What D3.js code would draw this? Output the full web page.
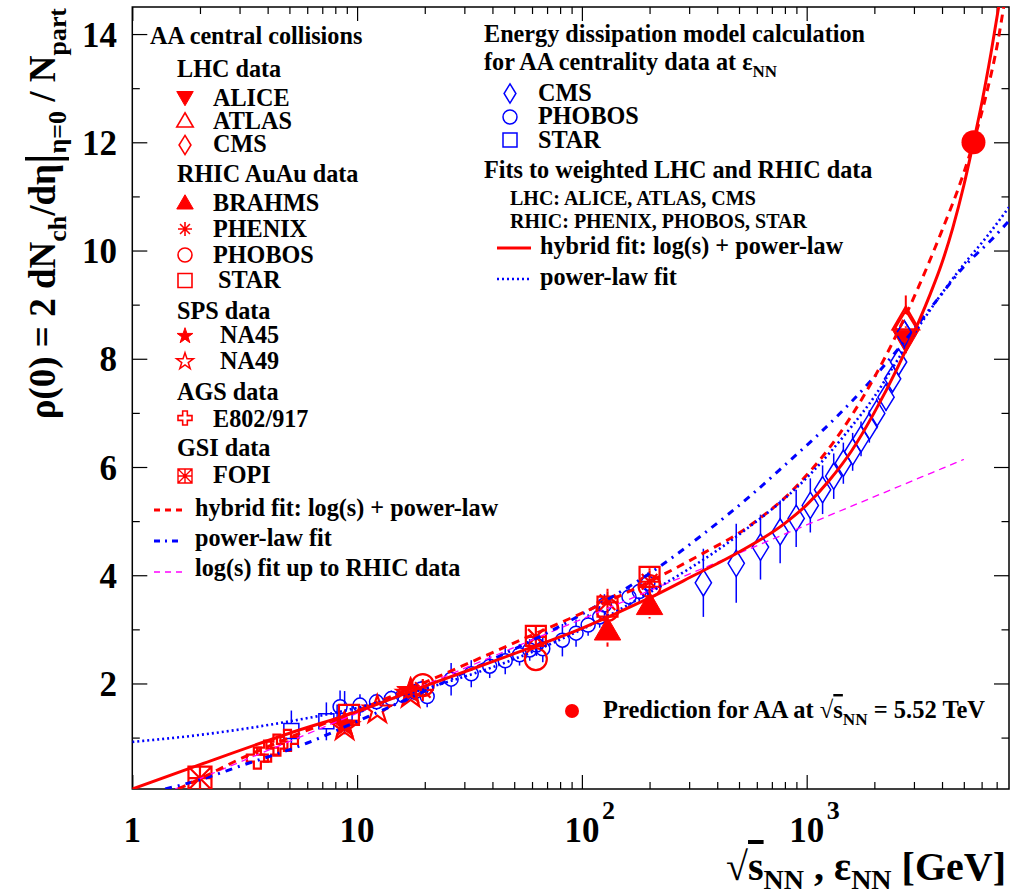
<!DOCTYPE html>
<html><head><meta charset="utf-8">
<script src="https://cdn.jsdelivr.net/npm/d3@7"></script>
<style>
body{margin:0;background:#fff}
svg{display:block}
text{font-family:"Liberation Serif","Times New Roman",serif;font-weight:bold;fill:#000}
</style>
</head><body>
<svg id="chart" width="1012" height="895"></svg>
<script>
// ---------- axis ticks ----------
const xMajorTicks = [1, 10, 100, 1000];
const xTickBase = ["1", "10", "10", "10"];
const xTickExp = ["", "", "2", "3"];
const yMajorTicks = [2, 4, 6, 8, 10, 12, 14];
const yMinorTicks = [1, 3, 5, 7, 9, 11, 13];

// ---------- measured central AA data: [sqrt(s_NN) GeV, rho(0), error] ----------
const aliceData  = [[2760, 8.35, 0.25]];
const atlasData  = [[2760, 8.72, 0.45]];
const cmsData    = [[2760, 8.58, 0.35]];
const brahmsData = [[130, 2.98, 0.3], [200, 3.45, 0.25]];
const phenixData = [[19.6, 1.88, 0.15], [62.4, 2.86, 0.2], [130, 3.5, 0.25], [200, 3.88, 0.25]];
const phobosData = [[19.6, 1.97, 0.15], [62.4, 2.45, 0.2], [130, 3.36, 0.2], [200, 3.8, 0.2]];
const starData   = [[9.2, 1.42, 0.1], [62.4, 2.88, 0.2], [130, 3.42, 0.2], [200, 3.97, 0.2]];
const na45Data   = [[8.8, 1.24, 0.1], [17.3, 1.86, 0.1]];
const na49Data   = [[8.8, 1.2, 0.1], [12.3, 1.51, 0.1], [17.3, 1.8, 0.1]];
const e802Data   = [[3.6, 0.62, 0], [4.0, 0.75, 0], [4.4, 0.86, 0], [4.9, 0.95, 0]];
const fopiData   = [[2.0, 0.25, 0]];

// ---------- energy dissipation model at eps_NN: [eps_NN GeV, rho(0), error] ----------
const cmsModel = [[347, 3.86, 0.63], [486, 4.22, 0.73], [623, 4.52, 0.6], [762, 4.8, 0.58],
  [898, 5.05, 0.53], [1038, 5.29, 0.5], [1177, 5.58, 0.45], [1319, 5.83, 0.42], [1456, 6.07, 0.38],
  [1601, 6.28, 0.35], [1745, 6.52, 0.32], [1900, 6.75, 0.3], [2049, 6.99, 0.28], [2254, 7.29, 0.25],
  [2411, 7.63, 0.22], [2564, 7.94, 0.2], [2718, 8.46, 0.2]];
const phobosModel = [[8.4, 1.57, 0.3], [10.3, 1.6, 0.2], [12.2, 1.66, 0.15], [14.2, 1.72, 0.15],
  [16.0, 1.78, 0.15], [18.0, 1.84, 0.15], [19.3, 1.9, 0.15], [20.5, 1.76, 0.2], [26.2, 2.08, 0.3],
  [32.2, 2.18, 0.25], [38.9, 2.32, 0.22], [45.6, 2.42, 0.25], [52.8, 2.53, 0.2], [58.6, 2.62, 0.2],
  [62.8, 2.71, 0.2], [67.0, 2.64, 0.25], [81.9, 2.8, 0.3], [94.2, 2.93, 0.25], [106.6, 3.08, 0.2],
  [120, 3.23, 0.2], [126, 3.45, 0.2], [162, 3.6, 0.2], [180, 3.7, 0.2], [196.6, 3.85, 0.2]];
const starModel = [[5.1, 1.12, 0.38], [7.3, 1.3, 0.35], [8.8, 1.46, 0.4]];

// ---------- prediction ----------
const prediction = [[5520, 12.0]];

// ---------- fit curves: [energy GeV, rho(0)] ----------
const hybridWeighted = [[1, 0.05], [2, 0.5], [5, 1.08], [10, 1.48], [20, 1.95], [50, 2.55], [100, 3.02],
  [200, 3.58], [316, 4.0], [500, 4.43], [794, 4.95], [1000, 5.3], [1259, 5.75], [1585, 6.3], [1995, 7.0],
  [2512, 7.8], [2754, 8.15], [3162, 8.7], [3548, 9.2], [3981, 9.75], [4467, 10.42], [5012, 11.22],
  [5520, 12.0], [6026, 12.75], [6607, 13.65], [7244, 14.65]];
const hybridCentral = [[1.6, 0.05], [2, 0.24], [3, 0.6], [5, 1.0], [10, 1.5], [20, 2.02], [50, 2.75],
  [100, 3.3], [220, 3.97], [344, 4.4], [500, 4.78], [631, 5.08], [794, 5.42], [1000, 5.85], [1259, 6.35],
  [1585, 6.95], [1995, 7.65], [2512, 8.45], [3162, 9.35], [3981, 10.35], [5012, 11.45], [5520, 12.0],
  [6310, 12.9], [7079, 13.85], [7586, 14.6]];
const powerCentral = [[1.4, 0.05], [2, 0.22], [3, 0.47], [6, 0.9], [10, 1.3], [30, 2.2], [100, 3.28],
  [220, 4.15], [344, 4.75], [574, 5.5], [807, 6.05], [1140, 6.62], [1601, 7.23], [2083, 7.75],
  [2755, 8.35], [3740, 9.05], [5000, 9.7], [6640, 10.2], [7943, 10.55]];
const powerWeighted = [[1, 0.92], [2, 1.05], [5, 1.3], [10, 1.55], [20, 1.9], [50, 2.45], [100, 3.0],
  [200, 3.68], [500, 4.75], [1000, 5.8], [1585, 6.75], [2000, 7.3], [2512, 7.95], [3162, 8.6],
  [3981, 9.2], [5012, 9.75], [6310, 10.25], [7943, 10.8]];
const logFitRHIC = [[1.55, 0.05], [10, 1.45], [100, 3.19], [1000, 4.93], [5000, 6.14]];

// ---------- layout ----------
const svg = d3.select("#chart");
const L = 132.3, R = 1009, T = 7, B = 789;
const x = d3.scaleLog().domain([1, Math.pow(10, 3.9)]).range([L, R]);
const y = d3.scaleLinear().domain([0.05, 14.5]).range([B, T]);
const RED = "#ff0000", BLUE = "#0000ff", MAG = "#ff00ff";

svg.append("defs").append("clipPath").attr("id", "plotClip")
  .append("rect").attr("x", L).attr("y", T).attr("width", R - L).attr("height", B - T);

// ---------- axes (ticks on all four sides) ----------
const xMinor = [];
for (let d = 1; d <= 1000; d *= 10) for (let k = 2; k <= 9; k++) if (k * d < x.domain()[1]) xMinor.push(k * d);
function axisTicks(gen, vals, len, tr) {
  const g = svg.append("g").attr("transform", tr)
    .call(gen.tickValues(vals).tickSize(len).tickFormat(""));
  g.select(".domain").remove();
  g.selectAll(".tick line").attr("stroke", "#000").attr("stroke-width", 1.2);
}
axisTicks(d3.axisBottom(x), xMajorTicks, -14, `translate(0,${B})`);
axisTicks(d3.axisBottom(x), xMinor, -7, `translate(0,${B})`);
axisTicks(d3.axisTop(x), xMajorTicks, -14, `translate(0,${T})`);
axisTicks(d3.axisTop(x), xMinor, -7, `translate(0,${T})`);
axisTicks(d3.axisLeft(y), yMajorTicks, -15, `translate(${L},0)`);
axisTicks(d3.axisLeft(y), yMinorTicks, -7.5, `translate(${L},0)`);
axisTicks(d3.axisRight(y), yMajorTicks, -15, `translate(${R},0)`);
axisTicks(d3.axisRight(y), yMinorTicks, -7.5, `translate(${R},0)`);
svg.append("rect").attr("x", L).attr("y", T).attr("width", R - L).attr("height", B - T)
  .attr("fill", "none").attr("stroke", "#000").attr("stroke-width", 1.5);

// tick labels
xMajorTicks.forEach((v, i) => {
  svg.append("text").attr("x", x(v)).attr("y", 842).attr("text-anchor", "middle")
    .attr("font-size", 35).text(xTickBase[i]);
  if (xTickExp[i]) svg.append("text").attr("x", x(v) + 20).attr("y", 819)
    .attr("font-size", 26).text(xTickExp[i]);
});
yMajorTicks.forEach(v => {
  svg.append("text").attr("x", 117).attr("y", y(v) + 12.5).attr("text-anchor", "end")
    .attr("font-size", 35).text(v);
});

// rich text helper: segments of [string, kind] where kind is "", "sub", "bar", "over"
function rich(parent, px, py, segs, fs, anchor, subDrop) {
  const t = parent.append("text").attr("x", px).attr("y", py).attr("font-size", fs)
    .attr("text-anchor", anchor || "start");
  let shift = 0;
  segs.forEach(([s, k]) => {
    const ts = t.append("tspan").text(s);
    let target = 0, size = fs;
    if (k === "sub") { target = (subDrop || 0.3) * fs; size = 0.7 * fs; }
    if (k === "bar") { target = 0.12 * fs; size = 1.3 * fs; }
    ts.attr("font-size", size).attr("dy", target - shift);
    if (k === "over") ts.style("text-decoration", "overline");
    shift = target;
  });
  return t;
}

// axis titles
rich(svg.append("g").attr("transform", "translate(55,8) rotate(-90)"), 0, 0,
  [["ρ(0) = 2 dN", ""], ["ch", "sub"], ["/dη", ""], ["|", "bar"], ["η=0", "sub"], [" / N", ""], ["part", "sub"]],
  37, "end");
rich(svg, 1006, 880,
  [["√", ""], ["s", "over"], ["NN", "sub"], [" , ε", ""], ["NN", "sub"], ["  [GeV]", ""]], 40, "end", 0.22);

// ---------- marker shapes ----------
const shape = {
  triUp: s => `M0,${-s * 0.55}L${s * 0.55},${s * 0.4}L${-s * 0.55},${s * 0.4}Z`,
  triDown: s => `M0,${s * 0.55}L${s * 0.55},${-s * 0.4}L${-s * 0.55},${-s * 0.4}Z`,
  diamond: s => `M0,${-s * 0.6}L${s * 0.37},0L0,${s * 0.6}L${-s * 0.37},0Z`,
  square: s => { const h = s / 2; return `M${-h},${-h}H${h}V${h}H${-h}Z`; },
  circle: s => { const r = s / 2; return `M${r},0A${r},${r} 0 1,1 ${-r},0A${r},${r} 0 1,1 ${r},0Z`; },
  star: s => { const p = []; for (let i = 0; i < 10; i++) { const r = i % 2 ? s * 0.2 : s * 0.52; const a = -Math.PI / 2 + i * Math.PI / 5; p.push([r * Math.cos(a), r * Math.sin(a)]); } return "M" + p.join("L") + "Z"; },
  cross: s => { const a = s / 2, b = s / 6; return `M${-b},${-a}H${b}V${-b}H${a}V${b}H${b}V${a}H${-b}V${b}H${-a}V${-b}H${-b}Z`; },
  asterisk: s => { const a = s / 2, d = a * 0.707; return `M${-a},0H${a}M0,${-a}V${a}M${-d},${-d}L${d},${d}M${-d},${d}L${d},${-d}`; },
  boxStar: s => { const h = s / 2; return `M${-h},${-h}H${h}V${h}H${-h}ZM${-h},${-h}L${h},${h}M${-h},${h}L${h},${-h}M0,${-h}V${h}M${-h},0H${h}`; }
};

const plot = svg.append("g").attr("clip-path", "url(#plotClip)");

function drawSeries(data, st) {
  const g = plot.append("g");
  data.forEach(([vx, vy, ve]) => {
    const cx = x(vx), cy = y(vy);
    if (ve) {
      const top = y(vy + ve), bot = y(vy - ve), gap = st.gap != null ? st.gap : st.size / 2;
      const segs = [];
      if (cy - gap > top) segs.push([top, cy - gap]);
      if (cy + gap < bot) segs.push([cy + gap, bot]);
      segs.forEach(([a, b]) => g.append("line").attr("x1", cx).attr("x2", cx).attr("y1", a).attr("y2", b)
        .attr("stroke", st.color).attr("stroke-width", st.ew || 1.5));
    }
    g.append("path").attr("d", shape[st.shape](st.size)).attr("transform", `translate(${cx},${cy})`)
      .attr("fill", st.fill ? st.color : "none").attr("stroke", st.color)
      .attr("stroke-width", st.sw).attr("stroke-linejoin", "miter");
  });
}

// model points
drawSeries(starModel, { shape: "square", size: 15, color: BLUE, sw: 1.5 });
drawSeries(phobosModel, { shape: "circle", size: 14, color: BLUE, sw: 1.5 });
drawSeries(cmsModel, { shape: "diamond", size: 22, color: BLUE, sw: 1.5, gap: 12 });

// data points
drawSeries(fopiData, { shape: "boxStar", size: 23, color: RED, sw: 2.2 });
drawSeries(e802Data, { shape: "cross", size: 21, color: RED, sw: 2.2 });
drawSeries(na49Data, { shape: "star", size: 28, color: RED, sw: 2.2 });
drawSeries(na45Data, { shape: "star", size: 28, color: RED, sw: 1, fill: true });
drawSeries(starData, { shape: "square", size: 20, color: RED, sw: 2.2, ew: 2 });
drawSeries(phobosData, { shape: "circle", size: 22, color: RED, sw: 2.2, ew: 2 });
drawSeries(phenixData, { shape: "asterisk", size: 22, color: RED, sw: 2.2, ew: 2 });
drawSeries(brahmsData, { shape: "triUp", size: 24, color: RED, sw: 1, fill: true, ew: 2 });
drawSeries(cmsData, { shape: "diamond", size: 28, color: RED, sw: 2.2, ew: 2 });
drawSeries(atlasData, { shape: "triUp", size: 24, color: RED, sw: 2.2, ew: 2 });
drawSeries(aliceData, { shape: "triDown", size: 24, color: RED, sw: 1, fill: true, ew: 2 });
// model point at the ALICE energy kept on top
drawSeries(cmsModel.slice(-1), { shape: "diamond", size: 22, color: BLUE, sw: 1.5, gap: 12 });

// ---------- fit curves ----------
const line = d3.line().x(d => x(d[0])).y(d => y(d[1])).curve(d3.curveMonotoneX);
function drawCurve(data, color, w, dash) {
  plot.append("path").attr("d", line(data)).attr("fill", "none").attr("stroke", color)
    .attr("stroke-width", w).attr("stroke-dasharray", dash || null);
}
drawCurve(logFitRHIC, MAG, 1.3, "7,5");
drawCurve(powerCentral, BLUE, 3, "7,6,2,6");
drawCurve(hybridCentral, RED, 3, "8,6");
drawCurve(powerWeighted, BLUE, 2.6, "2,3");
drawCurve(hybridWeighted, RED, 3);

// prediction point
plot.selectAll(".pred").data(prediction).join("circle")
  .attr("cx", d => x(d[0])).attr("cy", d => y(d[1])).attr("r", 12).attr("fill", RED);

// ---------- left legend ----------
const FS = 24.2;
const lg = svg.append("g");
const lt = (px, py, s, fs) => lg.append("text").attr("x", px).attr("y", py).attr("font-size", fs || FS).text(s);
const lm = (py, st) => lg.append("path").attr("d", shape[st.shape](st.size))
  .attr("transform", `translate(185,${py})`).attr("fill", st.fill ? RED : "none")
  .attr("stroke", RED).attr("stroke-width", st.sw);
lt(150, 44, "AA central collisions");
lt(177, 77, "LHC data");
lm(97.5, { shape: "triDown", size: 15, fill: true, sw: 1 }); lt(213, 106, "ALICE");
lm(121, { shape: "triUp", size: 15, sw: 1.6 }); lt(213, 129, "ATLAS");
lm(145, { shape: "diamond", size: 16, sw: 1.6 }); lt(213, 152, "CMS");
lt(177, 182, "RHIC AuAu data");
lm(203, { shape: "triUp", size: 15, fill: true, sw: 1 }); lt(213, 211, "BRAHMS");
lm(229, { shape: "asterisk", size: 14, sw: 1.6 }); lt(213, 237, "PHENIX");
lm(255, { shape: "circle", size: 14, sw: 1.6 }); lt(213, 263, "PHOBOS");
lm(280.5, { shape: "square", size: 14, sw: 1.6 }); lt(218, 288, "STAR");
lt(177, 319, "SPS data");
lm(336, { shape: "star", size: 16, fill: true, sw: 1 }); lt(220, 343, "NA45");
lm(361.5, { shape: "star", size: 17, sw: 1.5 }); lt(220, 369, "NA49");
lt(177, 400, "AGS data");
lm(418, { shape: "cross", size: 14, sw: 1.6 }); lt(213, 427, "E802/917");
lt(177, 456, "GSI data");
lm(476, { shape: "boxStar", size: 14, sw: 1.4 }); lt(213, 483, "FOPI");
const ll = (py, color, w, dash) => lg.append("line").attr("x1", 154).attr("x2", 182).attr("y1", py).attr("y2", py)
  .attr("stroke", color).attr("stroke-width", w).attr("stroke-dasharray", dash);
ll(510, RED, 3, "6,5"); lt(195, 516, "hybrid fit: log(s) + power-law");
ll(541, BLUE, 3, "6,5,2,5"); lt(195, 546, "power-law fit");
ll(572, MAG, 1.5, "6,5"); lt(195, 576, "log(s) fit up to RHIC data");

// ---------- right legend ----------
const rg = svg.append("g");
const rt = (px, py, s, fs) => rg.append("text").attr("x", px).attr("y", py).attr("font-size", fs || FS).text(s);
rt(484, 42, "Energy dissipation model calculation");
rich(rg, 484, 70, [["for AA centrality data at ε", ""], ["NN", "sub"]], FS);
rg.append("path").attr("d", shape.diamond(16)).attr("transform", "translate(510,93.5)")
  .attr("fill", "none").attr("stroke", BLUE).attr("stroke-width", 1.5);
rt(538, 101, "CMS");
rg.append("path").attr("d", shape.circle(14)).attr("transform", "translate(510,117)")
  .attr("fill", "none").attr("stroke", BLUE).attr("stroke-width", 1.5);
rt(538, 124, "PHOBOS");
rg.append("path").attr("d", shape.square(14)).attr("transform", "translate(510,140)")
  .attr("fill", "none").attr("stroke", BLUE).attr("stroke-width", 1.5);
rt(538, 148, "STAR");
rt(484, 178, "Fits to weighted LHC and RHIC data");
rt(510, 205, "LHC: ALICE, ATLAS, CMS", 20);
rt(510, 228, "RHIC: PHENIX, PHOBOS, STAR", 20);
rg.append("line").attr("x1", 497).attr("x2", 531).attr("y1", 248).attr("y2", 248)
  .attr("stroke", RED).attr("stroke-width", 3);
rt(540, 254, "hybrid fit: log(s) + power-law");
rg.append("line").attr("x1", 497).attr("x2", 531).attr("y1", 279).attr("y2", 279)
  .attr("stroke", BLUE).attr("stroke-width", 2.6).attr("stroke-dasharray", "2,3");
rt(540, 285, "power-law fit");

// prediction legend
svg.append("circle").attr("cx", 572).attr("cy", 711).attr("r", 7).attr("fill", RED);
rich(svg, 603, 718, [["Prediction for AA at √", ""], ["s", "over"], ["NN", "sub"], [" = 5.52 TeV", ""]], 24.5);
</script>
</body></html>
